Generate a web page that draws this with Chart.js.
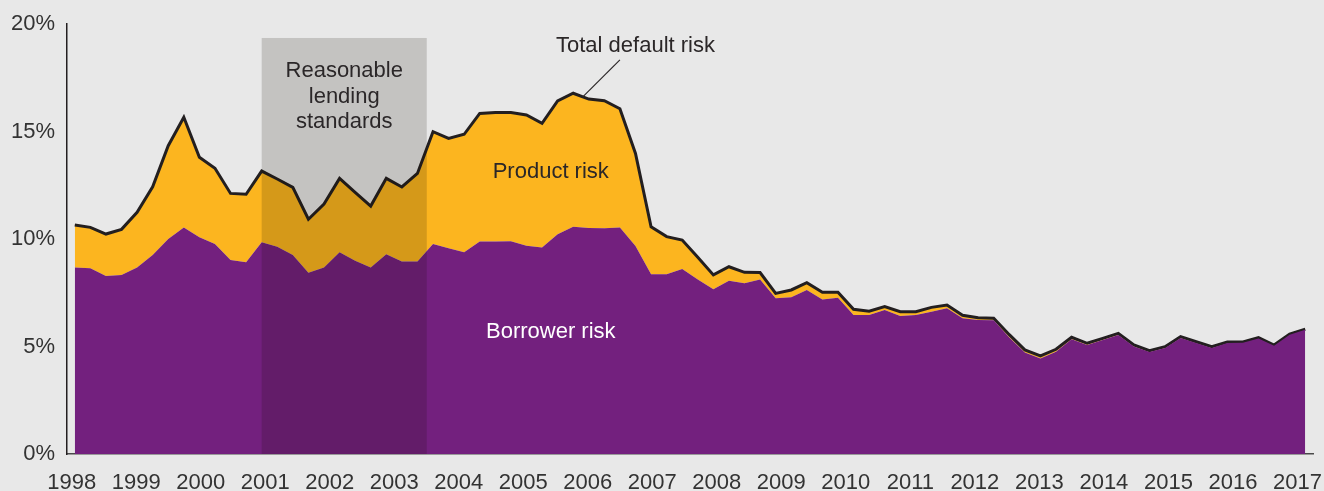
<!DOCTYPE html>
<html lang="en">
<head>
  <meta charset="UTF-8" />
  <title>Default risk</title>
  <script src="https://cdn.jsdelivr.net/npm/chart.js"></script>
  <style>
    html, body { margin: 0; padding: 0; background: #e8e8e8; }
    #wrap { width: 1324px; height: 491px; position: relative; }
  </style>
</head>
<body>
  <div id="wrap"><canvas id="riskChart"></canvas></div>

  <script>
    // quarterly points, 1998 Q1 .. 2017 Q4 (80 values, % of loans)
    const totalRisk = [
      10.65, 10.54, 10.23, 10.45, 11.24, 12.43, 14.34, 15.66, 13.80, 13.29,
      12.12, 12.08, 13.16, 12.79, 12.40, 10.92, 11.63, 12.82, 12.17, 11.53,
      12.82, 12.42, 13.05, 14.99, 14.68, 14.87, 15.84, 15.88, 15.88, 15.77,
      15.38, 16.42, 16.78, 16.51, 16.43, 16.06, 13.98, 10.57, 10.11, 9.95,
      9.15, 8.33, 8.71, 8.45, 8.44, 7.47, 7.63, 7.97, 7.52, 7.52,
      6.73, 6.64, 6.86, 6.62, 6.62, 6.82, 6.93, 6.45, 6.34, 6.31,
      5.55, 4.84, 4.56, 4.87, 5.43, 5.15, 5.38, 5.61, 5.07, 4.81,
      4.99, 5.46, 5.22, 4.99, 5.21, 5.21, 5.41, 5.07, 5.58, 5.80
    ];
    const borrowerRisk = [
      8.68, 8.64, 8.28, 8.33, 8.68, 9.26, 10.00, 10.53, 10.08, 9.77,
      9.02, 8.92, 9.85, 9.64, 9.26, 8.43, 8.68, 9.38, 8.99, 8.67,
      9.29, 8.95, 8.95, 9.77, 9.57, 9.38, 9.88, 9.88, 9.89, 9.69,
      9.61, 10.22, 10.57, 10.51, 10.50, 10.53, 9.67, 8.36, 8.36, 8.60,
      8.12, 7.66, 8.06, 7.94, 8.12, 7.24, 7.29, 7.63, 7.19, 7.27,
      6.47, 6.47, 6.70, 6.42, 6.47, 6.62, 6.78, 6.31, 6.23, 6.22,
      5.42, 4.72, 4.44, 4.76, 5.34, 5.07, 5.30, 5.54, 5.00, 4.74,
      4.93, 5.40, 5.16, 4.93, 5.16, 5.17, 5.37, 5.03, 5.55, 5.78
    ];
    const yearLabels = [1998, 1999, 2000, 2001, 2002, 2003, 2004, 2005, 2006, 2007,
                        2008, 2009, 2010, 2011, 2012, 2013, 2014, 2015, 2016, 2017];
    const yTicks = [0, 5, 10, 15, 20];
    // "Reasonable lending standards" period, in quarter index units
    const shadeStart = 12;
    const shadeEnd = 22.6;

    const FONT = "'Liberation Sans', Arial, sans-serif";
    const INK = '#2b2728';

    const idx = totalRisk.map((_, i) => i);
    const toPoints = arr => arr.map((v, i) => ({ x: idx[i], y: v }));

    const overlayPlugin = {
      id: 'overlay',
      afterDatasetsDraw(chart) {
        const { ctx, scales: { x, y } } = chart;
        ctx.save();
        // shaded period
        const x0 = x.getPixelForValue(shadeStart);
        const x1 = x.getPixelForValue(shadeEnd);
        const yt = y.getPixelForValue(19.35);
        const yb = y.getPixelForValue(0);
        ctx.fillStyle = 'rgba(20, 10, 0, 0.165)';
        ctx.fillRect(x0, yt, x1 - x0, yb - yt);

        ctx.font = '22px ' + FONT;
        ctx.textAlign = 'center';
        ctx.textBaseline = 'middle';
        ctx.fillStyle = INK;
        const cx = x.getPixelForValue(17.3);
        ['Reasonable', 'lending', 'standards'].forEach((t, i) => {
          ctx.fillText(t, cx, y.getPixelForValue(17.8) + i * 25.5);
        });

        ctx.fillText('Total default risk', x.getPixelForValue(36.0), y.getPixelForValue(18.98));
        ctx.strokeStyle = INK;
        ctx.lineWidth = 1.2;
        ctx.beginPath();
        ctx.moveTo(x.getPixelForValue(35.0), y.getPixelForValue(18.33));
        ctx.lineTo(x.getPixelForValue(32.6), y.getPixelForValue(16.6));
        ctx.stroke();

        ctx.fillText('Product risk', x.getPixelForValue(30.56), y.getPixelForValue(13.12));
        ctx.fillStyle = '#ffffff';
        ctx.fillText('Borrower risk', x.getPixelForValue(30.56), y.getPixelForValue(5.67));
        ctx.restore();
      }
    };

    new Chart(document.getElementById('riskChart').getContext('2d'), {
      type: 'line',
      data: {
        datasets: [
          {
            label: 'Borrower risk',
            data: toPoints(borrowerRisk),
            backgroundColor: '#73207e',
            borderWidth: 0,
            pointRadius: 0,
            fill: 'origin',
            tension: 0
          },
          {
            label: 'Total default risk',
            data: toPoints(totalRisk),
            backgroundColor: '#fcb51f',
            borderColor: '#231f20',
            borderWidth: 3,
            pointRadius: 0,
            fill: '-1',
            tension: 0
          }
        ]
      },
      options: {
        responsive: true,
        maintainAspectRatio: false,
        animation: false,
        layout: { padding: { top: 24, right: 11, left: 0, bottom: 0 } },
        plugins: {
          legend: { display: false },
          tooltip: { enabled: false }
        },
        scales: {
          x: {
            type: 'linear',
            min: -0.5,
            max: 79.5,
            grid: { display: false, drawTicks: false },
            border: { display: true, color: '#4a4a4a', width: 1.5 },
            afterBuildTicks: scale => {
              scale.ticks = yearLabels.map((yr, k) => ({ value: -0.2 + k * 78.7 / 19, label: String(yr) }));
            },
            ticks: {
              autoSkip: false,
              maxRotation: 0,
              padding: 16,
              color: '#333333',
              font: { family: FONT, size: 22 },
              callback: (v, i) => String(yearLabels[i])
            },
            afterFit: scale => {
              scale.height = 37;
              scale.paddingLeft = 0;
              scale.paddingRight = 0;
            }
          },
          y: {
            min: 0,
            max: 20,
            grid: { display: false, drawTicks: false },
            border: { display: true, color: '#231f20', width: 1.5 },
            afterBuildTicks: scale => {
              scale.ticks = yTicks.map(v => ({ value: v }));
            },
            ticks: {
              padding: 12,
              color: '#333333',
              font: { family: FONT, size: 22 },
              callback: v => v + '%'
            },
            afterFit: scale => {
              scale.width = 67;
              scale.paddingTop = 0;
              scale.paddingBottom = 0;
            }
          }
        }
      },
      plugins: [overlayPlugin]
    });
  </script>
</body>
</html>
